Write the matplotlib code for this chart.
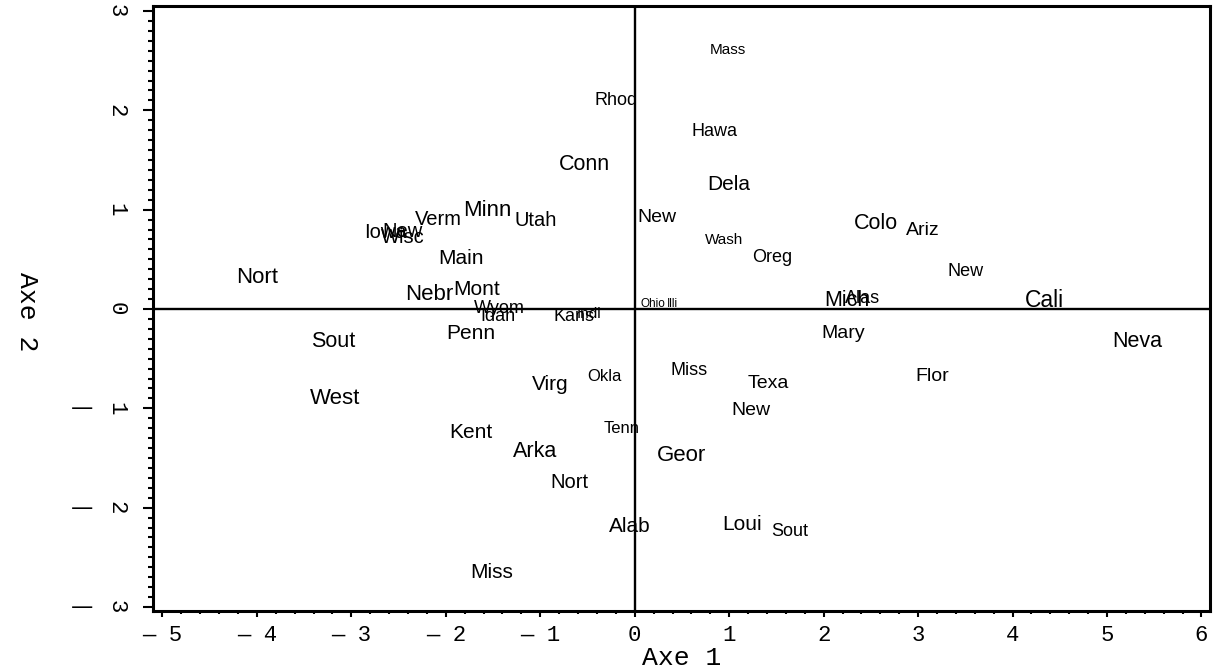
import numpy as np
import matplotlib
matplotlib.use("Agg")
import matplotlib.pyplot as plt
from matplotlib.ticker import MultipleLocator

# state labels (first 4 letters) with their scores on Axe 1 / Axe 2
names = ["Mass", "Rhod", "Hawa", "Conn", "Dela", "Minn", "Verm", "Utah", "New",
         "Iowa", "New", "Wisc", "Wash", "Oreg", "Colo", "Ariz", "New", "Main",
         "Nort", "Nebr", "Mont", "Wyom", "Idah", "Kans", "Indi", "Ohio", "Illi",
         "Mich", "Alas", "Cali", "Mary", "Neva", "Sout", "Penn", "West", "Virg",
         "Okla", "Miss", "Texa", "Flor", "New", "Kent", "Tenn", "Arka", "Geor",
         "Nort", "Alab", "Loui", "Sout", "Miss"]
axe1 = [0.99, -0.20, 0.84, -0.53, 0.99, -1.56, -2.08, -1.05, 0.24,
        -2.64, -2.46, -2.46, 0.95, 1.46, 2.55, 3.05, 3.50, -1.84,
        -4.00, -2.18, -1.67, -1.43, -1.45, -0.64, -0.48, 0.19, 0.40,
        2.25, 2.41, 4.34, 2.21, 5.32, -3.19, -1.74, -3.17, -0.89,
        -0.32, 0.57, 1.41, 3.15, 1.23, -1.73, -0.14, -1.05, 0.50,
        -0.69, -0.05, 1.14, 1.64, -1.51]
axe2 = [2.61, 2.10, 1.79, 1.45, 1.25, 0.99, 0.90, 0.89, 0.92,
        0.77, 0.78, 0.72, 0.69, 0.52, 0.86, 0.79, 0.38, 0.51,
        0.32, 0.15, 0.20, 0.00, -0.08, -0.08, -0.05, 0.05, 0.05,
        0.09, 0.11, 0.09, -0.25, -0.33, -0.33, -0.25, -0.90, -0.76,
        -0.68, -0.62, -0.75, -0.68, -1.02, -1.24, -1.20, -1.43, -1.47,
        -1.75, -2.19, -2.17, -2.24, -2.65]
# label size follows the third axis
sizes = [11, 13, 13, 15.5, 15, 16, 14.5, 14.5, 14,
         14.5, 14.5, 14.5, 11, 13, 15.5, 14, 13, 15,
         16, 16, 15, 13, 13, 13, 11, 8.5, 8.5,
         15.5, 13, 16.5, 14, 15.5, 15.5, 15, 16, 15,
         12, 13, 14, 14, 14, 15, 12, 15.5, 16,
         14.5, 15, 15, 13, 15]

xticks = np.arange(-5, 7)
yticks = np.arange(-3, 4)

fig = plt.figure(figsize=(12.19, 6.71), dpi=100)
ax = fig.add_axes([153/1219, 60/671, 1057/1219, 605/671])
ax.set_xlim(-5.10, 6.09)
ax.set_ylim(-3.04, 3.05)

ax.axhline(0, color="black", lw=1.7, zorder=1)
ax.axvline(0, color="black", lw=1.7, zorder=1)

for n, x, y, s in zip(names, axe1, axe2, sizes):
    ax.text(x, y, n, fontsize=s, family="Liberation Sans",
            ha="center", va="center", zorder=2)

for sp in ax.spines.values():
    sp.set_linewidth(2.2)

mono = "Liberation Mono"
ax.set_xticks(xticks, [("\u2014 " if v < 0 else "") + str(abs(v)) for v in xticks],
              family=mono, fontsize=16)
ax.xaxis.set_minor_locator(MultipleLocator(0.2))
ax.tick_params(axis="x", which="major", length=4, width=1.5, pad=6)
ax.tick_params(axis="x", which="minor", length=2.5, width=1.5)

ax.set_yticks(yticks, [str(abs(v)) for v in yticks], family=mono, fontsize=16,
              rotation=-90, va="center")
ax.yaxis.set_minor_locator(MultipleLocator(0.1))
ax.tick_params(axis="y", which="major", length=7, width=1.5, pad=12)
ax.tick_params(axis="y", which="minor", length=3.6, width=1.5)
for v in yticks[yticks < 0]:
    ax.text(-0.0672, v, "\u2014", transform=ax.get_yaxis_transform(),
            family="DejaVu Sans", fontsize=16, ha="center", va="center")

ax.set_xlabel("Axe 1", family=mono, fontsize=19)
ax.xaxis.label.set_va("center")
ax.xaxis.set_label_coords(0.5, -0.077)
ax.set_ylabel("Axe 2", family=mono, fontsize=19, rotation=-90)
ax.yaxis.label.set_ha("center")
ax.yaxis.label.set_va("center")
ax.yaxis.set_label_coords(-0.119, 0.495)

fig.savefig("out.png", dpi=100)
